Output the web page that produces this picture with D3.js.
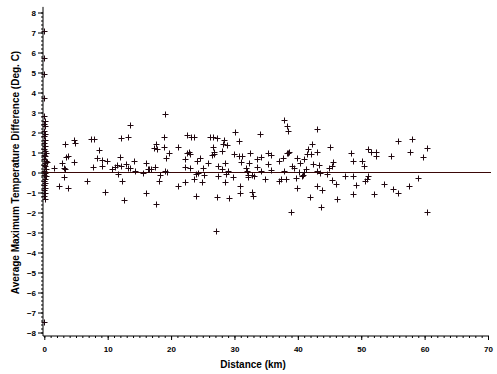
<!DOCTYPE html>
<html><head><meta charset="utf-8">
<script src="https://cdn.jsdelivr.net/npm/d3@7/dist/d3.min.js"></script>
<style>body{margin:0;background:#fff}svg{display:block}text{font-family:"Liberation Sans",Arial,sans-serif;font-weight:bold}</style>
</head><body><svg id="c" width="497" height="374"></svg>
<script>
// Points along the zero-distance column
const nearX = [0,0,0,0,0,0.1,0,0.1,0,0.1,0,0.1,0,0.1,0,0.1,0.2,0,0.1,0,0.2,0.1,0,0.1,0.2,0,0.1,0,0.2,0.1,0,0.1,0,0.1,0,0.1,0,0.1,0];
const nearY = [7.05,5.72,4.95,3.75,2.85,2.6,2.45,2.3,2.1,1.95,1.8,1.65,1.5,1.35,1.2,1.1,1.0,0.9,0.8,0.7,0.6,0.5,0.4,0.3,0.2,0.1,0.0,-0.1,-0.2,-0.3,-0.4,-0.5,-0.6,-0.75,-0.85,-1.0,-1.15,-1.3,-7.46];
// Other stations: distance (km) and temperature difference (deg C)
const distKm = [1.47,0.42,3.31,4.63,4.78,3.47,3.67,2.78,3.15,3.31,4.63,3.05,2.26,3.78,6.73,7.36,7.88,8.67,8.31,9.04,9.83,7.63,9.14,9.51,10.67,11.2,11.46,12.03,13.13,13.56,11.93,12.03,12.88,13.13,13.56,14.14,14.24,11.56,12.24,12.5,15.56,16.08,16.29,15.98,19.08,18.92,18.92,17.66,17.3,17.76,19.6,19.18,16.45,16.87,17.5,18.23,18.02,19.08,19.34,17.66,21.08,22.59,23.12,23.65,22.75,22.91,22.59,22.23,22.12,23.02,21.17,22.23,23.54,23.91,24.17,24.12,24.59,24.96,25.12,24.86,23.96,25.8,26.22,26.59,27.17,26.59,26.75,26.43,26.85,28.38,28.27,28.9,28.11,30.11,30.79,29.9,30.79,31.17,31.01,32.53,28.54,27.38,28.11,28.96,28.69,27.48,28.43,29.8,27.27,29.17,27.07,31.85,31.96,32.21,32.21,32.84,32.27,30.9,30.9,32.74,32.99,37.84,38.26,38.42,34.0,42.99,42.2,41.57,45.09,48.4,48.76,33.58,34.21,33.53,33.12,34.21,35.27,35.37,35.84,34.89,35.74,37.1,37.72,38.26,38.63,38.52,37.89,37.32,38.15,37.1,39.05,39.32,39.89,40.36,40.99,41.51,42.09,42.99,41.31,40.99,40.25,40.62,40.88,39.73,39.89,42.36,43.41,42.99,43.51,42.99,43.78,41.94,43.67,38.99,45.51,45.36,44.88,44.66,45.36,46.03,46.13,47.41,48.67,49.19,48.67,55.86,58.07,60.43,51.03,51.55,52.29,52.29,54.66,57.7,59.8,50.18,50.5,51.13,50.87,50.61,52.02,53.65,55.07,55.86,57.6,59.0,60.33];
const tempDiff = [0.24,0.52,1.44,1.62,1.46,0.79,0.83,0.49,0.21,0.18,0.54,-0.21,-0.68,-0.78,-0.44,1.68,1.68,1.11,0.71,0.63,0.56,0.26,0.31,-0.99,0.19,0.29,0.36,1.71,1.79,2.36,0.76,0.33,0.41,0.24,0.21,0.56,0.07,-0.07,-0.42,-1.37,-0.04,0.49,0.17,-1.01,2.94,1.76,1.26,1.44,1.21,1.16,0.96,0.71,0.16,0.16,0.29,-0.14,-0.44,0.06,0.03,-1.59,1.29,1.86,1.79,1.78,1.04,0.93,0.99,0.66,0.29,0.21,-0.68,-0.48,-0.33,-0.08,-0.01,0.58,0.74,0.21,-0.13,-0.46,-1.18,0.49,1.79,1.79,1.74,1.29,1.04,0.88,0.93,1.63,1.44,1.39,1.08,2.03,1.58,0.91,0.83,0.83,0.54,0.99,0.46,0.33,0.18,0.09,-0.07,-0.16,-0.46,-0.24,-1.21,-1.28,-2.94,0.21,0.07,-0.13,-0.24,-0.13,0.46,-0.68,-1.01,-0.96,-1.16,2.61,2.33,2.08,1.93,2.17,1.44,1.19,1.26,0.96,0.58,0.69,0.79,0.26,-0.18,0.07,0.41,0.96,0.86,-0.31,0.11,0.58,0.71,0.99,1.04,0.96,0.06,-0.33,-0.33,-0.43,0.34,0.21,0.74,0.49,0.66,0.91,0.93,1.01,0.18,0.04,0.04,-0.18,-0.13,-0.26,-0.78,0.41,0.38,0.07,-0.04,-0.66,-0.88,-1.21,-1.71,-1.96,0.51,0.33,0.21,-0.07,-0.38,-0.58,-1.33,-0.18,-0.18,-0.63,-1.09,1.59,1.66,1.21,1.16,1.04,1.04,0.83,0.83,1.04,0.76,0.58,0.33,-0.18,-0.34,-0.41,-1.09,-0.58,-0.84,-1.01,-0.68,-0.26,-1.99];
const xTicks = [0,10,20,30,40,50,60,70];
const yTicks = [-8,-7,-6,-5,-4,-3,-2,-1,0,1,2,3,4,5,6,7,8];
const xLabel = "Distance (km)";
const yLabel = "Average Maximum Temperature Difference (Deg. C)";

const svg = d3.select("#c");
svg.append("rect").attr("width",497).attr("height",374).attr("fill","#fff");
const x = d3.scaleLinear().domain([0,70]).range([44.3,488]);
const y = d3.scaleLinear().domain([-8,8]).range([332.5,12.5]);
const axX = 43, axY = 336;

// Y axis
const gy = svg.append("g").attr("transform",`translate(${axX},0)`);
gy.call(d3.axisLeft(y).tickValues(d3.range(-8,8.01,0.2)).tickSize(2).tickFormat(""));
gy.call(g=>g.select(".domain").remove());
const gy2 = svg.append("g").attr("transform",`translate(${axX},0)`);
gy2.call(d3.axisLeft(y).tickValues(yTicks).tickSize(5).tickPadding(2).tickFormat(d3.format("d")));
gy2.select(".domain").remove();
gy2.selectAll("text").attr("font-size",8).attr("fill","#000").attr("font-weight","bold");
svg.append("line").attr("x1",axX).attr("x2",axX).attr("y1",y(8.28)).attr("y2",axY).attr("stroke","#000");

// X axis
const gx = svg.append("g").attr("transform",`translate(0,${axY})`);
gx.call(d3.axisBottom(x).tickValues(d3.range(0,70.01,1)).tickSize(2).tickFormat(""));
gx.select(".domain").remove();
const gx2 = svg.append("g").attr("transform",`translate(0,${axY})`);
gx2.call(d3.axisBottom(x).tickValues(xTicks).tickSize(4).tickPadding(6).tickFormat(d3.format("d")));
gx2.select(".domain").remove();
gx2.selectAll("text").attr("font-size",8).attr("fill","#000").attr("font-weight","bold");
svg.append("line").attr("x1",axX).attr("x2",489).attr("y1",axY).attr("y2",axY).attr("stroke","#000");

// zero line
svg.append("line").attr("x1",axX).attr("x2",491).attr("y1",y(0)).attr("y2",y(0)).attr("stroke","#3a0808").attr("stroke-width",1.2);

// labels
svg.append("text").attr("x",253).attr("y",368).attr("text-anchor","middle").attr("font-size",10).text(xLabel);
svg.append("text").attr("transform",`translate(19,${y(0)}) rotate(-90)`).attr("text-anchor","middle").attr("font-size",10).text(yLabel);

// points
const pts = nearX.map((d,i)=>({x:d,y:nearY[i]})).concat(distKm.map((d,i)=>({x:d,y:tempDiff[i]})));
const s = 3;
const gp = svg.append("g").attr("stroke","#200810").attr("stroke-width",1).attr("fill","none");
gp.selectAll("path").data(pts).join("path")
  .attr("d",d=>{const cx=Math.round(x(d.x))+0.5, cy=Math.round(y(d.y))+0.5;return `M${cx-s},${cy}H${cx+s}M${cx},${cy-s}V${cy+s}`;});
</script></body></html>
